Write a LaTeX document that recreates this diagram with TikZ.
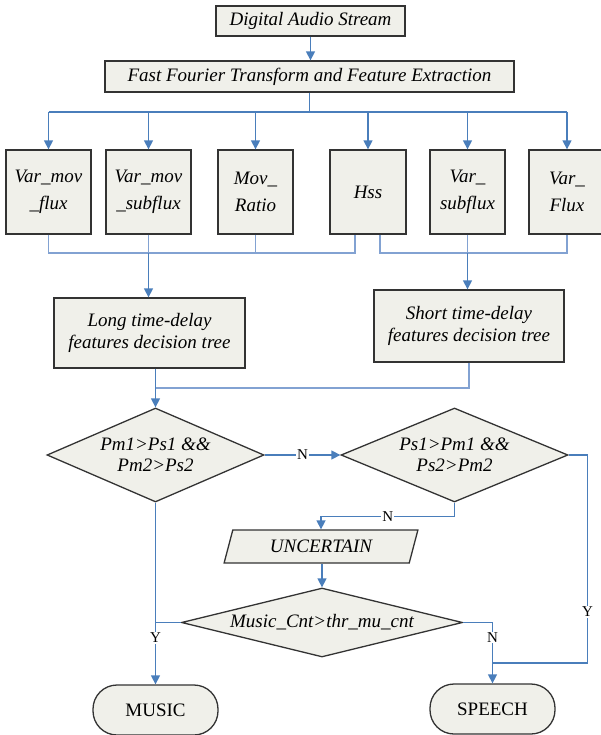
\documentclass[tikz,border=0pt]{standalone}
\usepackage{fontspec}
\setmainfont{Liberation Serif}
\usetikzlibrary{arrows.meta,shapes.geometric}
\definecolor{fillc}{HTML}{F0F0EA}
\definecolor{linec}{HTML}{4A7EBB}
\definecolor{linel}{HTML}{82A2D2}
\definecolor{bordc}{HTML}{333333}
\begin{document}
\begin{tikzpicture}[x=1pt,y=-1pt,
  font=\fontsize{19}{21.5}\selectfont\itshape,
  box/.style={draw=bordc,fill=fillc,line width=1.3pt,inner sep=0pt,align=center},
  feat/.style={box,minimum height=84pt,font=\fontsize{19}{26.7}\selectfont\itshape},
  dia/.style={box,shape=diamond},
  conn/.style={draw=linec,line width=1.4pt},
  connl/.style={draw=linel,line width=1.1pt},
  arr/.style={conn,-{Triangle[length=9pt,width=9pt]}},
  lab/.style={fill=white,inner sep=1pt,font=\fontsize{15}{15}\selectfont\upshape},
  term/.style={box,rounded corners=24pt,minimum width=125pt,minimum height=50pt,font=\fontsize{19}{21}\selectfont\upshape}
]
\useasboundingbox (0,0) rectangle (600,735);

% top boxes
\node[box,minimum width=189pt,minimum height=30pt] (das) at (310.5,21) {Digital Audio Stream};
\node[box,minimum width=409pt,minimum height=31pt] (fft) at (309.5,76.5) {Fast Fourier Transform and Feature Extraction};

% feature boxes
\node[feat,minimum width=85pt] (f1) at (48.5,192) {Var\_mov\\\_flux};
\node[feat,minimum width=85pt] (f2) at (148.5,192) {Var\_mov\\\_subflux};
\node[feat,minimum width=75pt] (f3) at (255.5,192) {Mov\_\\Ratio};
\node[feat,minimum width=76pt] (f4) at (368,192) {Hss};
\node[feat,minimum width=75pt] (f5) at (467.5,192) {Var\_\\subflux};
\node[feat,minimum width=76pt] (f6) at (567,192) {Var\_\\Flux};

% decision tree boxes
\node[box,minimum width=191pt,minimum height=70pt] (long) at (149.5,333) {Long time-delay\\features decision tree};
\node[box,minimum width=190pt,minimum height=72pt] (short) at (469,326) {Short time-delay\\features decision tree};

% decisions
\node[dia,aspect=2.31,minimum width=217pt,minimum height=94pt] (d1) at (155.5,455) {Pm1>Ps1 \&\&\\Pm2>Ps2};
\node[dia,aspect=2.41,minimum width=227pt,minimum height=94pt] (d2) at (454.5,455) {Ps1>Pm1 \&\&\\Ps2>Pm2};
\node[box,trapezium,trapezium left angle=68.5,trapezium right angle=111.5,trapezium stretches=true,minimum width=194pt,minimum height=33pt] (unc) at (321,546.5) {UNCERTAIN};
\node[dia,aspect=4.07,minimum width=281pt,minimum height=69pt] (d3) at (322,622.5) {Music\_Cnt>thr\_mu\_cnt};

% terminals
\node[term] (mus) at (155.5,710) {MUSIC};
\node[term] (sp) at (492.5,709) {SPEECH};

% coordinates
\coordinate (b0) at (310,112);
\coordinate (g1) at (0,253);
\coordinate (j) at (155.5,388);
\coordinate (sj) at (492.5,663);

% connectors top
\draw[arr] (das.south) -- (das.south |- fft.north);
\draw[conn] (fft.south) -- (fft.south |- b0);
\draw[conn] (f1.north |- b0) -- (f6.north |- b0);
\foreach \f in {f1,f2,f3,f4,f5,f6}{
  \draw[arr] (\f.north |- b0) -- (\f.north);
}

% gathering lines
\draw[connl] (f1.south) |- ([xshift=-13pt]f4.south |- g1) -- ([xshift=-13pt]f4.south);
\draw[connl] (f2.south) -- (f2.south |- g1);
\draw[connl] (f3.south) -- (f3.south |- g1);
\draw[connl] ([xshift=12pt]f4.south) |- (f6.south |- g1) -- (f6.south);
\draw[connl] (f5.south) -- (f5.south |- g1);
\draw[arr] (f2.south |- g1) -- (f2.south |- long.north);
\draw[arr] (f5.south |- g1) -- (f5.south |- short.north);

% into first decision
\draw[conn] (j |- long.south) -- (j);
\draw[connl] (short.south) |- (j);
\draw[arr] (j) -- (d1.north);

% decision flow
\draw[arr] (d1.east) -- node[lab]{N} (d2.west);
\draw[arr] (d2.south) -- ++(0,14) -| node[pos=0.25,lab]{N} (unc.north);
\draw[arr] (d3.north |- unc.south) -- (d3.north);
\draw[arr] (d1.south) -- node[lab,pos=0.745]{Y} (d1.south |- mus.north);
\draw[conn] (d3.west) -- (d3.west -| d1.south);
\draw[arr] (d3.east) -| node[pos=0.623,lab]{N} (sp.north);
\draw[conn] (d2.east) -- ++(19,0) |- node[pos=0.377,lab]{Y} (sj);
\end{tikzpicture}
\end{document}
